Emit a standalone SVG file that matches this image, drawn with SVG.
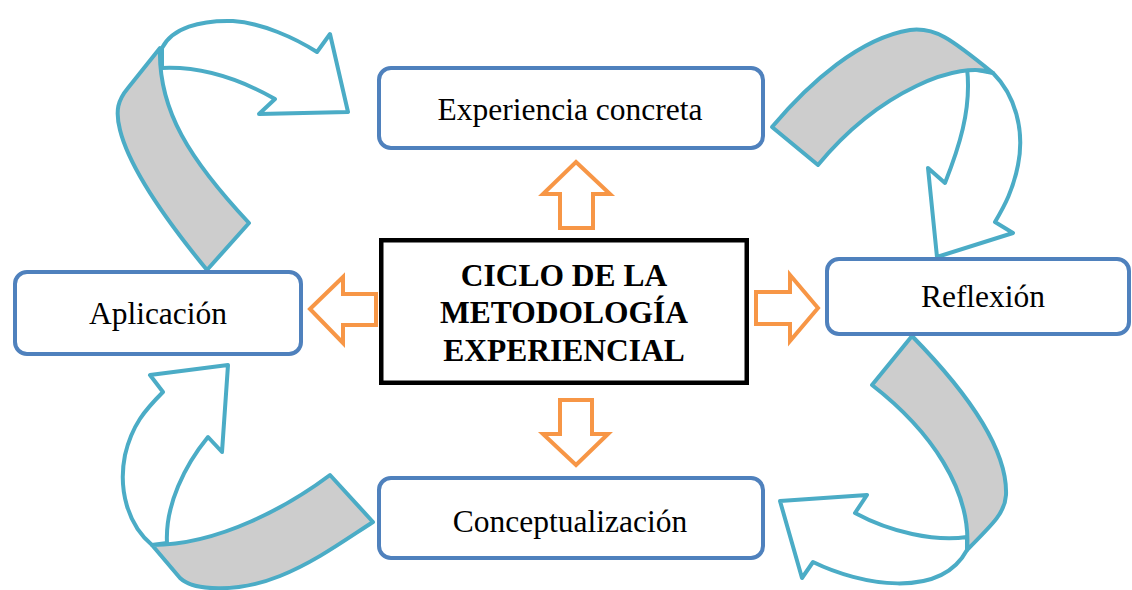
<svg xmlns="http://www.w3.org/2000/svg" width="1132" height="590" viewBox="0 0 1132 590">
<style>
.box{fill:#fff;stroke:#4F81BD;stroke-width:4}
.lbl{font-family:"Liberation Serif","Times New Roman",serif;font-size:31.5px;fill:#000;text-anchor:middle}
.title{font-family:"Liberation Serif","Times New Roman",serif;font-size:31.5px;font-weight:bold;fill:#000;text-anchor:middle}
.cw{fill:#fff;stroke:#4BACC6;stroke-width:4;stroke-linejoin:round}
.cg{fill:#CDCDCD;stroke:#4BACC6;stroke-width:4;stroke-linejoin:round}
.oa{fill:#fff;stroke:#F79646;stroke-width:4;stroke-linejoin:miter}
</style>
<g id="connectors">
  <!-- top-left curved arrow: Aplicación -> Experiencia concreta -->
  <g id="curve-tl">
    <path class="cw" d="M162,48 C172,28 200,20 233,21 C262,23 295,38 317,52 L330,34 L348,112 L259,114 L275,99 C245,82 205,66 162,68 Z"/>
    <path class="cg" d="M207,270 C170,225 130,170 120,130 C115,110 118,100 128,88 L160,48 C158,110 190,160 249,223 Z"/>
  </g>
  <!-- top-right curved arrow: Experiencia concreta -> Reflexión -->
  <g id="curve-tr">
    <path class="cw" d="M993,73 C1015,95 1025,130 1018,165 C1013,190 1005,205 995,222 L1013,233 L937,257 L928,168 L945,183 C958,150 972,110 967,68 Z"/>
    <path class="cg" d="M772,127 C810,82 860,38 910,30 C935,27 950,38 993,73 C960,60 880,90 818,165 Z"/>
  </g>
  <!-- bottom-right curved arrow: Reflexión -> Conceptualización -->
  <g id="curve-br">
    <path class="cw" d="M967,537 C935,542 890,532 855,513 L867,495 L780,501 L802,578 L813,562 C860,585 940,600 967,550 Z"/>
    <path class="cg" d="M912,336 C960,385 1008,445 1006,495 C1005,512 995,522 967,550 C972,490 930,430 872,385 Z"/>
  </g>
  <!-- bottom-left curved arrow: Conceptualización -> Aplicación -->
  <g id="curve-bl">
    <path class="cw" d="M152,545 C128,525 118,490 125,455 C132,425 145,410 163,392 L150,375 L228,365 L222,452 L208,437 C185,465 165,505 167,543 Z"/>
    <path class="cg" d="M330,475 C290,505 220,545 152,545 L180,578 C195,592 240,592 280,576 C315,562 345,540 373,522 Z"/>
  </g>
  <!-- orange block arrows from center -->
  <polygon class="oa" points="576,162 610,194 593,194 593,228 560,228 560,194 543,194"/>
  <polygon class="oa" points="576,465 608,434 592,434 592,400 560,400 560,434 543,434"/>
  <polygon class="oa" points="310,309 343,277 343,294 376,294 376,325 343,325 343,343"/>
  <polygon class="oa" points="818,308 790,275 790,292 756,292 756,324 790,324 790,341"/>
</g>
<g id="node-center">
  <rect x="381.25" y="240.25" width="365.5" height="142.5" fill="#fff" stroke="#000" stroke-width="4.5"/>
  <text class="title" x="564" y="286">CICLO DE LA</text>
  <text class="title" x="564" y="323">METODOLOGÍA</text>
  <text class="title" x="564" y="361">EXPERIENCIAL</text>
</g>
<g id="node-experiencia">
  <rect class="box" x="379" y="68" width="384" height="80" rx="12"/>
  <text class="lbl" x="570" y="120">Experiencia concreta</text>
</g>
<g id="node-reflexion">
  <rect class="box" x="827" y="259" width="302" height="75" rx="12"/>
  <text class="lbl" x="983" y="307">Reflexión</text>
</g>
<g id="node-conceptualizacion">
  <rect class="box" x="379" y="478" width="384" height="80" rx="12"/>
  <text class="lbl" x="570" y="532">Conceptualización</text>
</g>
<g id="node-aplicacion">
  <rect class="box" x="15" y="272" width="286" height="82" rx="12"/>
  <text class="lbl" x="158" y="324">Aplicación</text>
</g>
</svg>
